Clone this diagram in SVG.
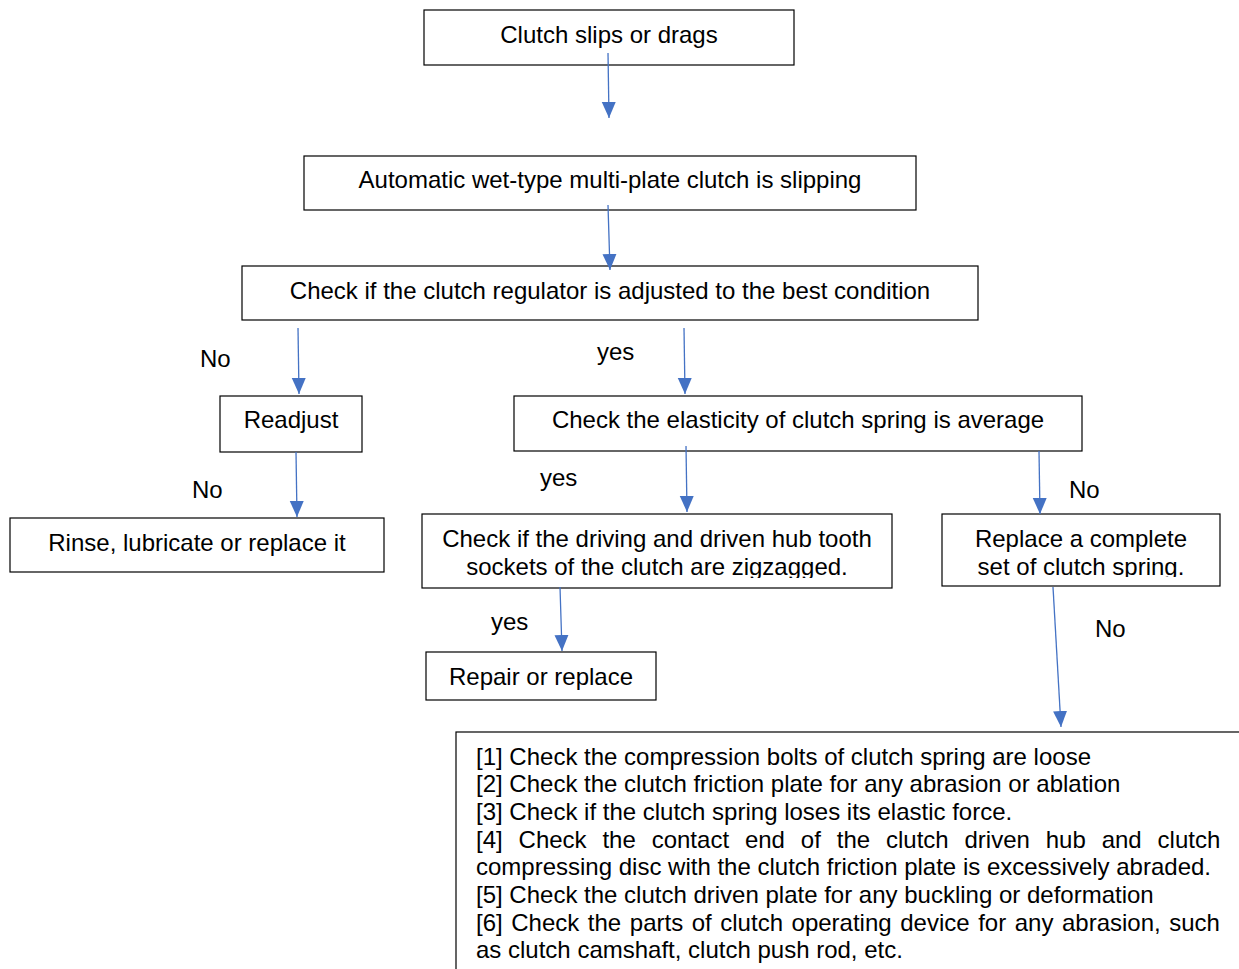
<svg xmlns="http://www.w3.org/2000/svg" width="1239" height="969" viewBox="0 0 1239 969">
<style>
.box{fill:#fff;stroke:#000;stroke-width:1.2}
.t{font-family:"Liberation Sans",Arial,sans-serif;font-size:24px;fill:#000}
.c{text-anchor:middle}
.ln{stroke:#4472C4;stroke-width:1.3;fill:none}
</style>
<defs>
<marker id="ah" markerUnits="userSpaceOnUse" markerWidth="16" markerHeight="16" refX="16" refY="7" orient="auto">
<path d="M0,0 L16,7 L0,14 Z" fill="#4472C4"/>
</marker>
<clipPath id="c1"><rect x="422" y="514" width="470" height="64"/></clipPath>
<clipPath id="c2"><rect x="942" y="514" width="278" height="63"/></clipPath>
</defs>
<rect width="1239" height="969" fill="#fff"/>
<g id="n1"><rect class="box" x="424" y="10" width="370" height="55"/><text class="t c" x="609" y="43">Clutch slips or drags</text></g>
<g id="n2"><rect class="box" x="304" y="156" width="612" height="54"/><text class="t c" x="610" y="188">Automatic wet-type multi-plate clutch is slipping</text></g>
<g id="n3"><rect class="box" x="242" y="266" width="736" height="54"/><text class="t c" x="610" y="299">Check if the clutch regulator is adjusted to the best condition</text></g>
<g id="n4"><rect class="box" x="220" y="396" width="142" height="56"/><text class="t c" x="291" y="428">Readjust</text></g>
<g id="n5"><rect class="box" x="10" y="518" width="374" height="54"/><text class="t c" x="197" y="551">Rinse, lubricate or replace it</text></g>
<g id="n6"><rect class="box" x="514" y="396" width="568" height="55"/><text class="t c" x="798" y="428">Check the elasticity of clutch spring is average</text></g>
<g id="n7"><rect class="box" x="422" y="514" width="470" height="74"/><g clip-path="url(#c1)"><text class="t c" x="657" y="547">Check if the driving and driven hub tooth</text><text class="t c" x="657" y="575">sockets of the clutch are zigzagged.</text></g></g>
<g id="n8"><rect class="box" x="942" y="514" width="278" height="72"/><g clip-path="url(#c2)"><text class="t c" x="1081" y="547">Replace a complete</text><text class="t c" x="1081" y="575">set of clutch spring.</text></g></g>
<g id="n9"><rect class="box" x="426" y="652" width="230" height="48"/><text class="t c" x="541" y="685">Repair or replace</text></g>
<g id="n10"><rect class="box" x="456" y="732" width="800" height="260"/>
<text class="t" x="476" y="765">[1] Check the compression bolts of clutch spring are loose</text>
<text class="t" x="476" y="792">[2] Check the clutch friction plate for any abrasion or ablation</text>
<text class="t" x="476" y="820">[3] Check if the clutch spring loses its elastic force.</text>
<text class="t" x="476" y="848" word-spacing="9.2">[4] Check the contact end of the clutch driven hub and clutch</text>
<text class="t" x="476" y="875">compressing disc with the clutch friction plate is excessively abraded.</text>
<text class="t" x="476" y="903">[5] Check the clutch driven plate for any buckling or deformation</text>
<text class="t" x="476" y="931" word-spacing="1.9">[6] Check the parts of clutch operating device for any abrasion, such</text>
<text class="t" x="476" y="958">as clutch camshaft, clutch push rod, etc.</text>
</g>
<g id="connectors">
<line class="ln" x1="608" y1="53" x2="609" y2="118" marker-end="url(#ah)"/>
<line class="ln" x1="608" y1="205" x2="610" y2="270" marker-end="url(#ah)"/>
<line class="ln" x1="298" y1="328" x2="299" y2="394" marker-end="url(#ah)"/>
<line class="ln" x1="684" y1="328" x2="685" y2="394" marker-end="url(#ah)"/>
<line class="ln" x1="296" y1="452" x2="297" y2="517" marker-end="url(#ah)"/>
<line class="ln" x1="686" y1="446" x2="687" y2="512" marker-end="url(#ah)"/>
<line class="ln" x1="1039" y1="451" x2="1040" y2="514" marker-end="url(#ah)"/>
<line class="ln" x1="560" y1="587" x2="562" y2="651" marker-end="url(#ah)"/>
<line class="ln" x1="1053" y1="587" x2="1061" y2="727" marker-end="url(#ah)"/>
<text class="t" x="200" y="367">No</text>
<text class="t" x="597" y="360">yes</text>
<text class="t" x="192" y="498">No</text>
<text class="t" x="540" y="486">yes</text>
<text class="t" x="1069" y="498">No</text>
<text class="t" x="491" y="630">yes</text>
<text class="t" x="1095" y="637">No</text>
</g>
</svg>
